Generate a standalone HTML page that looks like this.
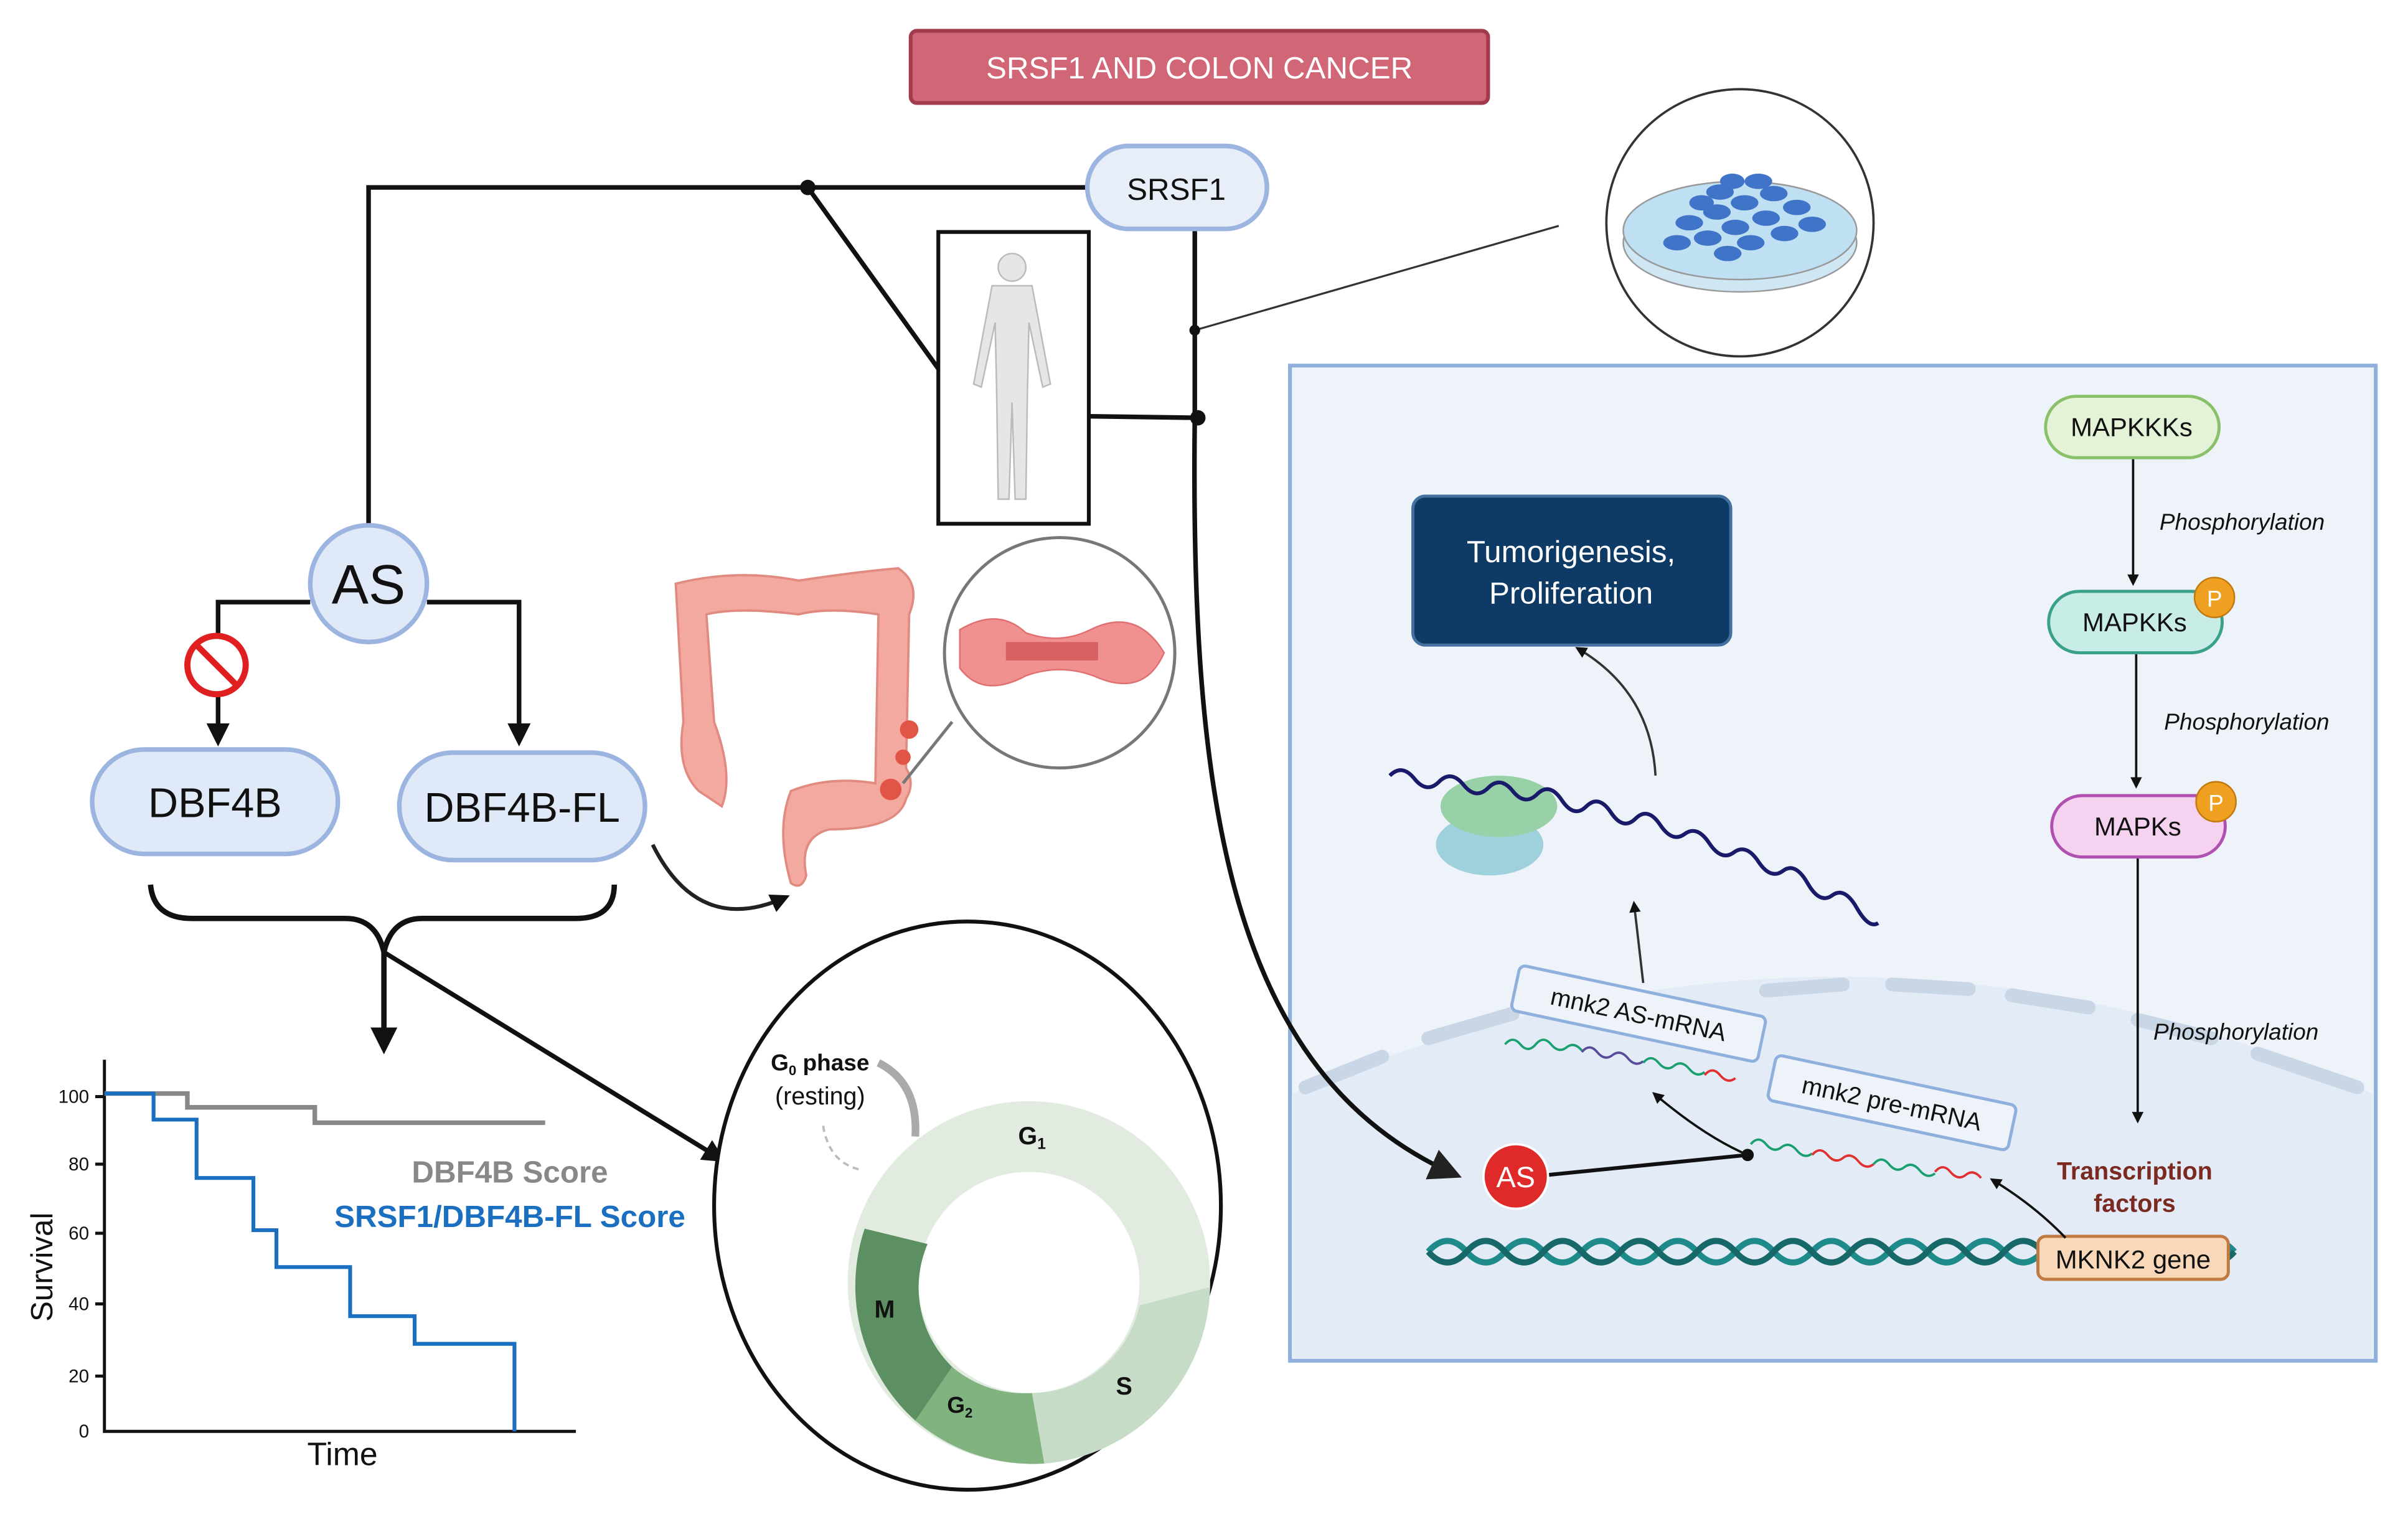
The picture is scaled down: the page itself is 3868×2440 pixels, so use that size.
<!DOCTYPE html>
<html><head><meta charset="utf-8"><style>
html,body{margin:0;padding:0;background:#fff}
svg{display:block}
text{font-family:"Liberation Sans",sans-serif}
</style></head><body>
<svg width="3868" height="2440" viewBox="0 0 1568 989" xmlns="http://www.w3.org/2000/svg">
<defs>
<marker id="ah" viewBox="0 0 10 10" refX="8" refY="5" markerWidth="5" markerHeight="5" orient="auto"><path d="M0,0L10,5L0,10z" fill="#111"/></marker>
<marker id="ah2" viewBox="0 0 10 10" refX="8" refY="5" markerWidth="7" markerHeight="7" orient="auto"><path d="M0,0L10,5L0,10z" fill="#222"/></marker>
</defs>
<rect width="1568" height="989" fill="#fff"/>
<rect x="593" y="20" width="376" height="47" rx="4" fill="#d16677" stroke="#a23c4c" stroke-width="2.5"/>
<text x="781" y="51" font-size="20" fill="#fff" text-anchor="middle">SRSF1 AND COLON CANCER</text>

<rect x="840" y="238" width="707" height="648" fill="#eef3fa" stroke="#8fb0dc" stroke-width="2.5"/>
<path d="M842,712 Q1200,560 1545,712 L1545,884 L842,884Z" fill="#e3ebf7"/>
<g stroke="#c9d6e6" stroke-width="9" stroke-linecap="round" fill="none">
<path d="M850,708 L900,688"/><path d="M930,676 L985,660"/><path d="M1150,645 L1200,641"/><path d="M1232,641 L1282,644"/><path d="M1310,648 L1360,656"/><path d="M1392,664 L1440,676"/><path d="M1470,686 L1535,708"/>
</g>

<g stroke="#111" stroke-width="3" fill="none">
<path d="M708,122 L240,122 L240,345"/>
<path d="M526,122 L611,240"/>
<path d="M778,149 L778,272"/>
<path d="M709,271 L780,272"/>
<path d="M778,272 C775,520 800,700 948,765" marker-end="url(#ah2)"/>
</g>
<line x1="778" y1="215" x2="1015" y2="147" stroke="#333" stroke-width="1.3"/>
<circle cx="526" cy="122" r="5" fill="#111"/><circle cx="780" cy="272" r="5" fill="#111"/><circle cx="778" cy="215" r="3.5" fill="#111"/>

<rect x="708" y="95" width="117" height="54" rx="27" fill="#e8eef8" stroke="#9bb5e0" stroke-width="3"/>
<text x="766" y="130" font-size="20" text-anchor="middle" fill="#111">SRSF1</text>

<rect x="611" y="151" width="98" height="190" fill="#fff" stroke="#111" stroke-width="2.5"/>
<g fill="#e6e6e6" stroke="#bbb" stroke-width="1">
<circle cx="659" cy="174" r="9"/>
<path d="M646,186 L672,186 L684,250 L679,252 L670,210 L669,256 L668,325 L661,325 L659,262 L657,325 L650,325 L649,256 L648,210 L639,252 L634,250Z"/>
</g>

<circle cx="1133" cy="145" r="87" fill="#fff" stroke="#333" stroke-width="1.5"/>
<ellipse cx="1133" cy="158" rx="76" ry="32" fill="#cfe6f3" stroke="#999"/>
<ellipse cx="1133" cy="150" rx="76" ry="32" fill="#bfe0f2" stroke="#999"/>
<g fill="#3f74c9">
<ellipse cx="1100" cy="145" rx="9" ry="5"/><ellipse cx="1118" cy="138" rx="9" ry="5"/><ellipse cx="1136" cy="132" rx="9" ry="5"/><ellipse cx="1155" cy="126" rx="9" ry="5"/><ellipse cx="1170" cy="135" rx="9" ry="5"/><ellipse cx="1150" cy="142" rx="9" ry="5"/><ellipse cx="1130" cy="148" rx="9" ry="5"/><ellipse cx="1112" cy="155" rx="9" ry="5"/><ellipse cx="1140" cy="158" rx="9" ry="5"/><ellipse cx="1162" cy="152" rx="9" ry="5"/><ellipse cx="1180" cy="146" rx="9" ry="5"/><ellipse cx="1125" cy="165" rx="9" ry="5"/><ellipse cx="1120" cy="125" rx="9" ry="5"/><ellipse cx="1092" cy="158" rx="9" ry="5"/><ellipse cx="1145" cy="118" rx="9" ry="5"/><ellipse cx="1128" cy="118" rx="8" ry="5"/><ellipse cx="1108" cy="132" rx="8" ry="5"/>
</g>

<g stroke="#111" stroke-width="3" fill="none">
<path d="M202,392 L142,392 L142,483" marker-end="url(#ah)"/>
<path d="M278,392 L338,392 L338,483" marker-end="url(#ah)"/>
</g>
<circle cx="240" cy="380" r="38" fill="#e0e9f7" stroke="#9bb5e0" stroke-width="3"/>
<text x="240" y="393" font-size="36" text-anchor="middle" fill="#111">AS</text>
<circle cx="141" cy="433" r="19" fill="#fff" stroke="#e02020" stroke-width="4"/>
<line x1="128" y1="420" x2="154" y2="446" stroke="#e02020" stroke-width="4"/>
<rect x="60" y="488" width="160" height="68" rx="34" fill="#e0e9f7" stroke="#9bb5e0" stroke-width="3"/>
<text x="140" y="532" font-size="27" text-anchor="middle" fill="#111">DBF4B</text>
<rect x="260" y="490" width="160" height="70" rx="35" fill="#e0e9f7" stroke="#9bb5e0" stroke-width="3"/>
<text x="340" y="535" font-size="27" text-anchor="middle" fill="#111">DBF4B-FL</text>

<path d="M98,576 Q100,598 125,598 L225,598 Q245,598 250,620 Q255,598 275,598 L375,598 Q400,598 400,576" stroke="#111" stroke-width="3.5" fill="none"/>
<line x1="250" y1="620" x2="250" y2="683" stroke="#111" stroke-width="3.5" marker-end="url(#ah)"/>
<line x1="250" y1="620" x2="470" y2="755" stroke="#111" stroke-width="3" marker-end="url(#ah)"/>

<g stroke="#111" stroke-width="2" fill="none"><path d="M68,690 L68,932 L375,932"/>
<path d="M62,714H68M62,758H68M62,803H68M62,849H68M62,896H68"/></g>
<g font-size="12" text-anchor="end" fill="#111"><text x="58" y="718">100</text><text x="58" y="762">80</text><text x="58" y="807">60</text><text x="58" y="853">40</text><text x="58" y="900">20</text><text x="58" y="936">0</text></g>
<path d="M68,712 L122,712 L122,721 L205,721 L205,731 L355,731" stroke="#888" stroke-width="3" fill="none"/>
<path d="M68,712 L100,712 L100,729 L128,729 L128,767 L165,767 L165,801 L180,801 L180,825 L228,825 L228,857 L270,857 L270,875 L335,875 L335,932" stroke="#1a6fc0" stroke-width="2.5" fill="none"/>
<text transform="translate(34,825) rotate(-90)" font-size="20" text-anchor="middle" fill="#111">Survival</text>
<text x="223" y="954" font-size="21" text-anchor="middle" fill="#111">Time</text>
<text x="332" y="770" font-size="20" font-weight="bold" text-anchor="middle" fill="#888">DBF4B Score</text>
<text x="332" y="799" font-size="20" font-weight="bold" text-anchor="middle" fill="#1a6fc0">SRSF1/DBF4B-FL Score</text>

<ellipse cx="630" cy="785" rx="165" ry="185" fill="#fff" stroke="#111" stroke-width="2.5"/>
<circle cx="670" cy="835" r="95" fill="none" stroke="#e2ebe0" stroke-width="46"/>
<path d="M788,838 A118,118 0 0 1 680,953 L672,907 A72,72 0 0 0 742,850Z" fill="#c6dcc6"/>
<path d="M680,953 A118,118 0 0 1 596,925 L620,890 A72,72 0 0 0 672,907Z" fill="#80b380"/>
<path d="M596,925 A118,118 0 0 1 563,800 L604,810 A72,72 0 0 0 620,890Z" fill="#5c8f62"/>
<text x="672" y="745" font-size="16" font-weight="bold" fill="#111" text-anchor="middle">G<tspan font-size="10" dy="3">1</tspan></text>
<text x="732" y="908" font-size="16" font-weight="bold" fill="#111" text-anchor="middle">S</text>
<text x="625" y="920" font-size="15" font-weight="bold" fill="#111" text-anchor="middle">G<tspan font-size="9" dy="3">2</tspan></text>
<text x="576" y="858" font-size="16" font-weight="bold" fill="#111" text-anchor="middle">M</text>
<text x="534" y="697" font-size="15" font-weight="bold" fill="#111" text-anchor="middle">G<tspan font-size="9" dy="3">0</tspan><tspan dy="-3"> phase</tspan></text>
<text x="534" y="719" font-size="16" fill="#111" text-anchor="middle">(resting)</text>
<path d="M596,740 Q598,705 572,692" stroke="#aaa" stroke-width="5" fill="none"/>
<path d="M536,733 Q540,758 562,762" stroke="#bbb" stroke-width="1.5" stroke-dasharray="4,3" fill="none"/>

<g fill="#f3a8a0" stroke="#e08a80" stroke-width="1.5">
<path d="M440,380 Q480,370 520,378 Q560,372 585,370 Q600,380 592,400 L590,500 Q596,510 590,520 Q585,540 540,540 Q520,545 525,570 Q522,580 515,575 Q505,540 515,515 Q540,505 570,510 L572,400 Q540,395 520,400 Q480,395 460,400 L465,470 Q478,505 470,525 L455,515 Q440,500 445,470Z"/>
</g>
<circle cx="592" cy="475" r="6" fill="#e05545"/><circle cx="588" cy="493" r="5" fill="#e05545"/><circle cx="580" cy="514" r="7" fill="#e05545"/>
<path d="M425,550 Q455,610 512,584" stroke="#222" stroke-width="2.5" fill="none" marker-end="url(#ah)"/>
<circle cx="690" cy="425" r="75" fill="#fff" stroke="#777" stroke-width="2"/>
<path d="M620,470 Q600,495 588,510" stroke="#777" stroke-width="2" fill="none"/>
<path d="M625,410 Q650,395 668,412 Q690,420 710,410 Q740,395 758,425 Q745,455 712,440 Q690,432 668,440 Q640,455 625,435Z" fill="#f09090" stroke="#e07070"/>
<rect x="655" y="418" width="60" height="12" fill="#d86060"/>

<rect x="920" y="323" width="207" height="97" rx="8" fill="#0e3a66" stroke="#4470a0" stroke-width="2"/>
<text x="1023" y="366" font-size="20" fill="#fff" text-anchor="middle">Tumorigenesis,</text>
<text x="1023" y="393" font-size="20" fill="#fff" text-anchor="middle">Proliferation</text>
<path d="M1078,505 Q1075,450 1027,422" stroke="#333" stroke-width="1.5" fill="none" marker-end="url(#ah)"/>

<ellipse cx="970" cy="550" rx="35" ry="20" fill="#9fd1dc"/>
<ellipse cx="976" cy="525" rx="38" ry="20" fill="#98d0a8"/>
<path d="M905,505 q8,-8 16,2 t16,2 t16,2 t16,2 t16,2 t16,2 t16,4 t16,4 t16,4 t16,4 t16,4 t16,6 t16,6 t16,6 t16,6 t16,6 t16,8 t16,8 t16,8 t14,10" stroke="#1a1a6a" stroke-width="2.5" fill="none"/>
<line x1="1070" y1="640" x2="1064" y2="588" stroke="#333" stroke-width="1.5" marker-end="url(#ah)"/>

<g transform="translate(1067,660) rotate(12)"><rect x="-82" y="-15" width="164" height="30" rx="4" fill="#eef3fa" stroke="#8fb0dc" stroke-width="2"/><text y="6" font-size="16" text-anchor="middle" fill="#111">mnk2 AS-mRNA</text></g>
<g transform="translate(1232,718) rotate(12)"><rect x="-80" y="-15" width="160" height="30" rx="4" fill="#eef3fa" stroke="#8fb0dc" stroke-width="2"/><text y="6" font-size="16" text-anchor="middle" fill="#111">mnk2 pre-mRNA</text></g>
<path d="M980,680 q5,-6 10,0 t10,0 t10,0 t10,2 t10,2" stroke="#1aa070" stroke-width="1.5" fill="none"/>
<path d="M1030,685 q5,-6 10,0 t10,2 t10,2 t10,2" stroke="#5a4a9a" stroke-width="1.5" fill="none"/>
<path d="M1070,692 q5,-6 10,0 t10,2 t10,2 t10,2" stroke="#1aa070" stroke-width="1.5" fill="none"/>
<path d="M1110,700 q5,-6 10,0 t10,2" stroke="#e03030" stroke-width="1.5" fill="none"/>
<path d="M1140,745 q5,-6 10,0 t10,2 t10,2 t10,2" stroke="#1aa070" stroke-width="1.5" fill="none"/>
<path d="M1180,752 q5,-6 10,0 t10,2 t10,2 t10,2" stroke="#e03030" stroke-width="1.5" fill="none"/>
<path d="M1220,758 q5,-6 10,0 t10,2 t10,2 t10,2" stroke="#1aa070" stroke-width="1.5" fill="none"/>
<path d="M1260,763 q5,-6 10,0 t10,2 t10,2" stroke="#e03030" stroke-width="1.5" fill="none"/>

<line x1="1008" y1="765" x2="1138" y2="752" stroke="#111" stroke-width="2.5"/>
<circle cx="1138" cy="752" r="4" fill="#111"/>
<path d="M1138,752 Q1110,740 1077,712" stroke="#111" stroke-width="1.5" fill="none" marker-end="url(#ah)"/>
<circle cx="987" cy="766" r="21" fill="#e02a2a" stroke="#fff" stroke-width="1.5"/>
<text x="987" y="773" font-size="19" fill="#fff" text-anchor="middle">AS</text>

<path d="M930,815 q12.5,-14 25,0 t25,0 t25,0 t25,0 t25,0 t25,0 t25,0 t25,0 t25,0 t25,0 t25,0 t25,0 t25,0 t25,0 t25,0 t25,0 t25,0 t25,0 t25,0 t25,0 t25,0" stroke="#1f8a8a" stroke-width="4" fill="none"/>
<path d="M930,815 q12.5,14 25,0 t25,0 t25,0 t25,0 t25,0 t25,0 t25,0 t25,0 t25,0 t25,0 t25,0 t25,0 t25,0 t25,0 t25,0 t25,0 t25,0 t25,0 t25,0 t25,0 t25,0" stroke="#176868" stroke-width="4" fill="none"/>
<rect x="1327" y="805" width="124" height="28" rx="5" fill="#f8d8b8" stroke="#c07a40" stroke-width="2"/>
<text x="1389" y="826" font-size="17" text-anchor="middle" fill="#111">MKNK2 gene</text>
<path d="M1345,806 Q1325,785 1297,768" stroke="#111" stroke-width="1.5" fill="none" marker-end="url(#ah)"/>
<text x="1390" y="768" font-size="16" font-weight="bold" text-anchor="middle" fill="#7a2a20">Transcription</text>
<text x="1390" y="789" font-size="16" font-weight="bold" text-anchor="middle" fill="#7a2a20">factors</text>

<g stroke="#111" stroke-width="1.5"><line x1="1389" y1="298" x2="1389" y2="380" marker-end="url(#ah)"/><line x1="1391" y1="426" x2="1391" y2="512" marker-end="url(#ah)"/><line x1="1392" y1="558" x2="1392" y2="730" marker-end="url(#ah)"/></g>
<rect x="1332" y="258" width="113" height="40" rx="20" fill="#e4f2d8" stroke="#8ac06a" stroke-width="2"/>
<text x="1388" y="284" font-size="17" text-anchor="middle" fill="#111">MAPKKKs</text>
<rect x="1334" y="385" width="113" height="40" rx="20" fill="#c8ece6" stroke="#3aa08a" stroke-width="2"/>
<text x="1390" y="411" font-size="17" text-anchor="middle" fill="#111">MAPKKs</text>
<circle cx="1442" cy="389" r="13" fill="#f0a020" stroke="#c07a10"/><text x="1442" y="395" font-size="15" text-anchor="middle" fill="#fff">P</text>
<rect x="1336" y="518" width="113" height="40" rx="20" fill="#f5d2f0" stroke="#b050b0" stroke-width="2"/>
<text x="1392" y="544" font-size="17" text-anchor="middle" fill="#111">MAPKs</text>
<circle cx="1443" cy="522" r="13" fill="#f0a020" stroke="#c07a10"/><text x="1443" y="528" font-size="15" text-anchor="middle" fill="#fff">P</text>
<g font-size="15" font-style="italic" fill="#111" text-anchor="middle"><text x="1460" y="345">Phosphorylation</text><text x="1463" y="475">Phosphorylation</text><text x="1456" y="677">Phosphorylation</text></g>
</svg>
</body></html>
